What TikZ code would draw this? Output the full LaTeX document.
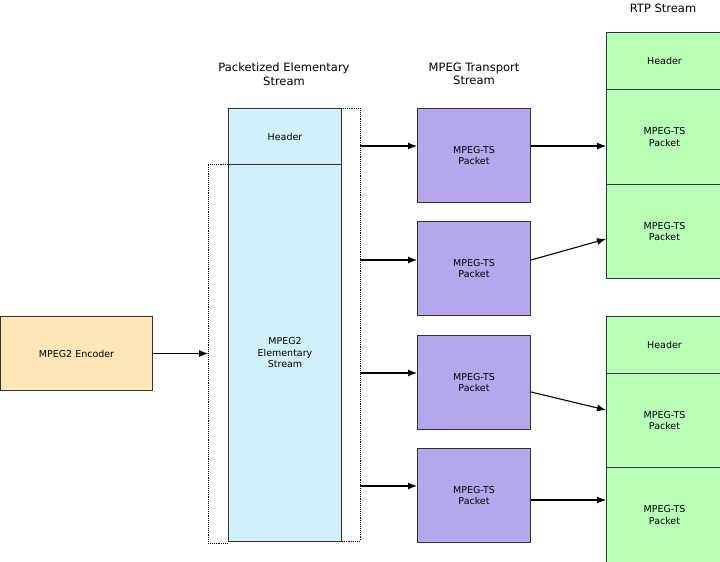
\documentclass[tikz,border=0pt]{standalone}
\usepackage{fontspec}
\setmainfont{DejaVu Sans}
\usetikzlibrary{arrows.meta}
\begin{document}
\begin{tikzpicture}[x=1pt,y=-1pt,
 box/.style={draw=black!80,line width=1pt,minimum width=113pt,anchor=north west,align=center,font=\fontsize{9.5}{11.5}\selectfont,inner sep=0pt},
 enc/.style={box,fill=yellow!30!orange!25,minimum width=152pt,minimum height=74pt},
 pes/.style={box,fill=cyan!18},
 ts/.style={box,fill=violet!40!blue!35,minimum height=94pt},
 rtp/.style={box,fill=green!28,minimum width=116pt},
 title/.style={align=center,font=\fontsize{11.5}{13.5}\selectfont},
 arr/.style={-{Latex[length=9pt,width=7pt]},line width=1.1pt},
 dot/.style={densely dotted,line width=0.9pt}]
\useasboundingbox (0,0) rectangle (720,562);
\begin{scope}
\clip (0,0) rectangle (720,562);
\node[enc] (enc) at (0,316) {MPEG2 Encoder};
\node[pes,minimum height=56pt] (ph) at (228,108) {Header};
\node[pes,minimum height=377pt] (pb) at (228,164) {MPEG2\\Elementary\\Stream};
\draw[dot] (341,108) -- (360,108) -- (360,541) -- (341,541);
\draw[dot] (228,164) -- (208,164) -- (208,543) -- (228,543);
\coordinate (bl) at (208,353);
\draw[arr] (enc.east) -- (enc.east -| bl);
\node[title] (t1) at (284,74) {Packetized Elementary\\Stream};
\node[title] (t2) at (474,74) {MPEG Transport\\Stream};
\node[title] (t3) at (663,8) {RTP Stream};
\node[ts] (p1) at (417,108) {MPEG-TS\\Packet};
\node[ts] (p2) at (417,221) {MPEG-TS\\Packet};
\node[ts] (p3) at (417,335) {MPEG-TS\\Packet};
\node[ts] (p4) at (417,448) {MPEG-TS\\Packet};
\foreach \i/\y in {1/146,2/260,3/373,4/486}{
 \coordinate (s\i) at (360,\y);
 \draw[arr] (s\i) -- (p\i.west |- s\i);}
\node[rtp,minimum height=57pt] (h1) at (606,32) {Header};
\node[rtp,minimum height=95pt] (r1) at (606,89) {MPEG-TS\\Packet};
\node[rtp,minimum height=94pt] (r2) at (606,184) {MPEG-TS\\Packet};
\node[rtp,minimum height=57pt] (h2) at (606,316) {Header};
\node[rtp,minimum height=94pt] (r3) at (606,373) {MPEG-TS\\Packet};
\node[rtp,minimum height=95pt] (r4) at (606,467) {MPEG-TS\\Packet};
\draw[arr] (p1.east |- 0,146) -- (r1.west |- 0,146);
\draw[arr] (p2.east |- 0,260) -- (r2.west |- 0,239);
\draw[arr] (p3.east |- 0,392) -- (r3.west |- 0,410);
\draw[arr] (p4.east |- 0,500) -- (r4.west |- 0,500);
\end{scope}
\end{tikzpicture}
\end{document}
